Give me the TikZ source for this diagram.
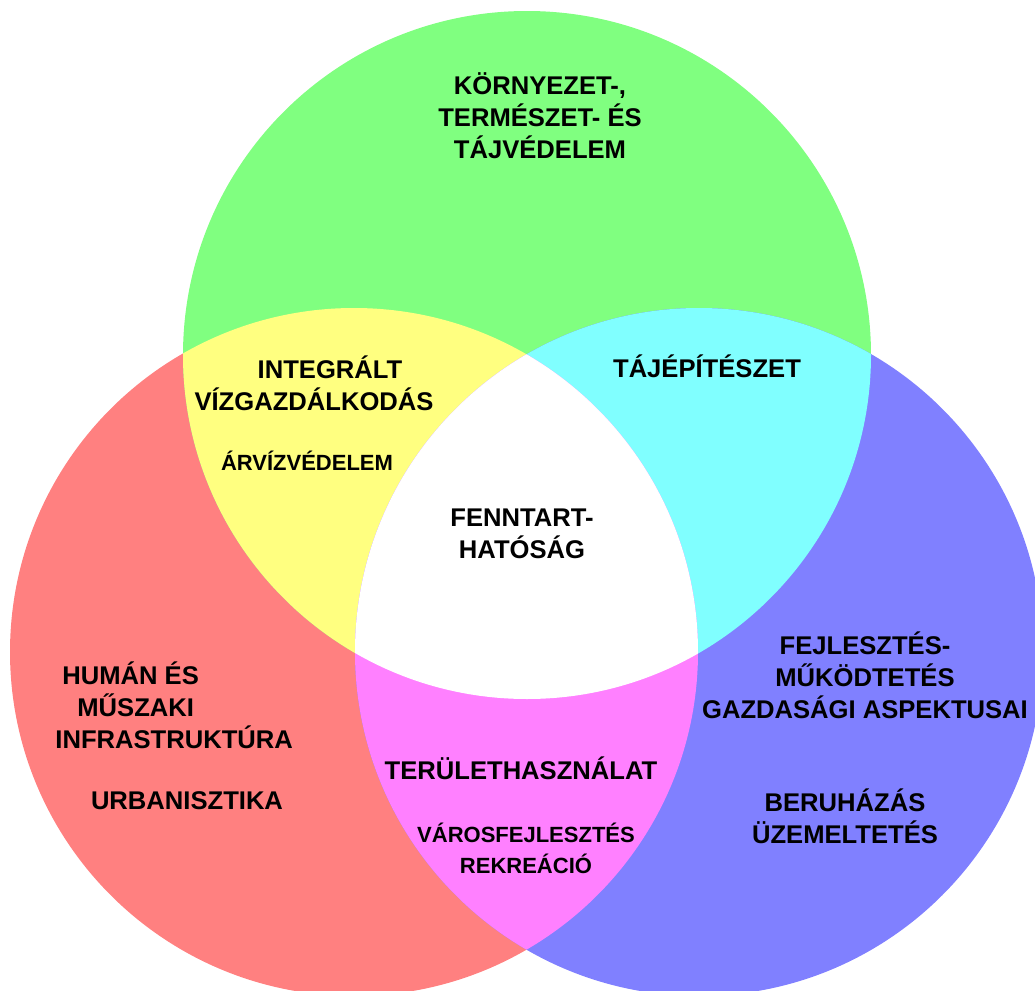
\documentclass[tikz,border=0pt]{standalone}
\usepackage{fontspec}
\setmainfont{Liberation Sans}
\usetikzlibrary{positioning}

\definecolor{venngreen}{RGB}{128,255,128}
\definecolor{vennred}{RGB}{255,128,128}
\definecolor{vennblue}{RGB}{128,128,255}
\definecolor{vennyellow}{RGB}{255,255,128}
\definecolor{venncyan}{RGB}{128,255,255}
\definecolor{vennmagenta}{RGB}{255,128,255}
\newcommand{\vennr}{172pt}

\begin{document}
\begin{tikzpicture}[x=0.5pt,y=-0.5pt,
  bigtxt/.style={font=\bfseries\fontsize{12.8}{16}\selectfont, align=center, inner sep=0pt},
  smalltxt/.style={font=\bfseries\fontsize{11}{15.5}\selectfont, align=center, inner sep=0pt}]

\useasboundingbox (0,0) rectangle (1035,991);

\coordinate (g) at (527,355);   %green: environment
\coordinate (r) at (354,652);   %red: infrastructure
\coordinate (b) at (699,652);   %blue: economy

\fill[vennred] (r) circle[radius=\vennr];
\fill[venngreen] (g) circle[radius=\vennr];
\fill[vennblue] (b) circle[radius=\vennr];

%pairwise overlaps
\begin{scope}
\clip (r) circle[radius=\vennr];
\fill[vennyellow] (g) circle[radius=\vennr];
\end{scope}
\begin{scope}
\clip (g) circle[radius=\vennr];
\fill[venncyan] (b) circle[radius=\vennr];
\end{scope}
\begin{scope}
\clip (r) circle[radius=\vennr];
\fill[vennmagenta] (b) circle[radius=\vennr];
\end{scope}

%centre
\begin{scope}
\clip (r) circle[radius=\vennr];
\clip (g) circle[radius=\vennr];
\fill[white] (b) circle[radius=\vennr];
\end{scope}

\node[bigtxt] (env) at (540,116) {KÖRNYEZET-,\\TERMÉSZET- ÉS\\TÁJVÉDELEM};
\node[bigtxt] (water) at (314,383) {\hspace*{16pt}INTEGRÁLT\\VÍZGAZDÁLKODÁS};
\node[smalltxt] (flood) at (307,461) {ÁRVÍZVÉDELEM};
\node[bigtxt] (land) at (707,366) {TÁJÉPÍTÉSZET};
\node[bigtxt] (sust) at (522,534) {FENNTART-\\HATÓSÁG};

\node[bigtxt, align=left, anchor=west] (infra) at (55,705) {\hspace*{3.5pt}HUMÁN ÉS\\\hspace*{11pt}MŰSZAKI\\INFRASTRUKTÚRA};
\node[bigtxt] (urban) at (187,801) {URBANISZTIKA};

\node[bigtxt] (use) at (521,768) {TERÜLETHASZNÁLAT};
\node[smalltxt] (city) at (526,848) {VÁROSFEJLESZTÉS\\REKREÁCIÓ};

\node[bigtxt] (econ) at (865,675) {FEJLESZTÉS-\\MŰKÖDTETÉS\\GAZDASÁGI ASPEKTUSAI};
\node[bigtxt] (invest) at (845,816) {BERUHÁZÁS\\ÜZEMELTETÉS};

\end{tikzpicture}
\end{document}
